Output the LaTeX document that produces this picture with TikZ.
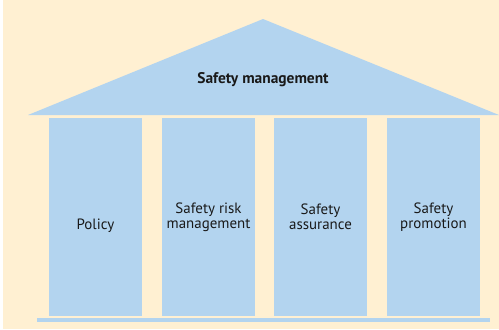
\documentclass[tikz,border=0pt]{standalone}
\usepackage{fontspec}
\setmainfont{PT Sans}
\usepackage{tikz}
\definecolor{paper}{HTML}{FFF0D2}
\definecolor{sky}{HTML}{B3D4EF}
\tikzset{pillar/.style={rectangle, fill=sky, inner sep=0pt,
    minimum width=93bp, minimum height=198bp}}
\tikzset{caption/.style={align=center, font=\fontsize{15}{15}\selectfont,
    text=black!90}}

\begin{document}
\begin{tikzpicture}[x=1bp,y=-1bp]
    \useasboundingbox (0,0) rectangle (499,329);
    \fill[paper] (3,0) rectangle (499,329);
    % roof
    \coordinate (apex) at (263,19);
    \coordinate (eaveL) at (28,115);
    \coordinate (eaveR) at (499,115);
    \fill[sky] (eaveL) -- (apex) -- (eaveR) -- cycle;
    \node[caption, font=\bfseries\fontsize{15.5}{15}\selectfont] (roof) at (263,80) {Safety management};
    % pillars
    \node[pillar] (p1) at (95.5,217) {};
    \node[pillar] (p2) at (208.5,217) {};
    \node[pillar] (p3) at (320.5,217) {};
    \node[pillar] (p4) at (433.5,217) {};
    \node[caption, yshift=-9bp] (t1) at (p1.center) {Policy};
    \node[caption] (t2) at (p2.center) {Safety risk\\management};
    \node[caption] (t3) at (p3.center) {Safety\\assurance};
    \node[caption] (t4) at (p4.center) {Safety\\promotion};
    % base
    \node[rectangle, fill=sky, inner sep=0pt, minimum width=453bp,
        minimum height=4bp] (base) at (263.5,320) {};
\end{tikzpicture}
\end{document}
